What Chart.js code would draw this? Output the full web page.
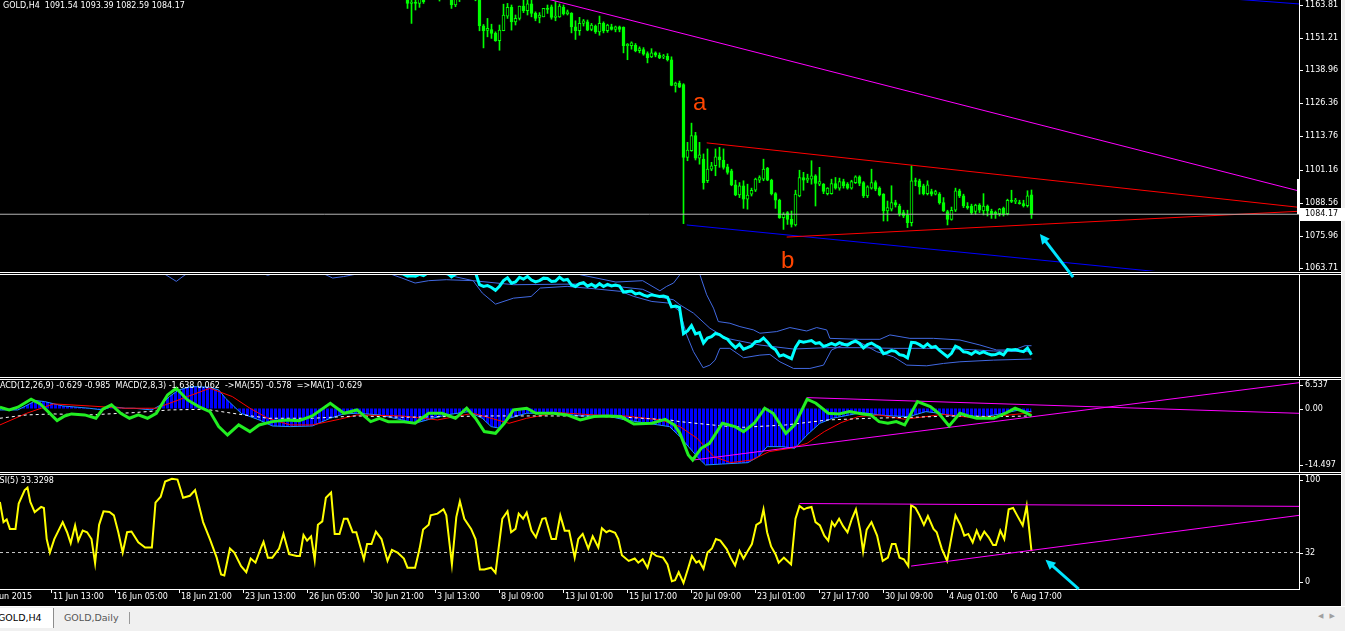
<!DOCTYPE html>
<html>
<head>
<meta charset="utf-8">
<script src="https://cdn.jsdelivr.net/npm/chart.js@4.4.1/dist/chart.umd.min.js"></script>
<style>
  html, body { margin: 0; padding: 0; background: #000; width: 1345px; height: 631px; overflow: hidden; }
  canvas { position: absolute; left: 0; }
  #price { z-index: 2; }
  .sep { position: absolute; left: 0; width: 1341px; height: 1px; background: #fff; }
  #edge { position: absolute; left: 1341px; top: 0; width: 1px; height: 607px; background: #fff; }
  #edge2 { position: absolute; left: 1342px; top: 0; width: 3px; height: 607px; background: #f0f0f0; }
  #tabs { position: absolute; left: 0; top: 606px; width: 1345px; height: 25px; background: #f0f0f0;
          border-top: 1px solid #fff; font: 9.5px "DejaVu Sans", sans-serif; }
  #tab1 { position: absolute; left: 0; top: 1px; width: 53px; height: 20px; background: #fff;
          border-right: 1px solid #8c8c8c; color: #000; line-height: 20px; text-indent: -2px; }
  #tab2 { position: absolute; left: 64px; top: 1px; line-height: 20px; color: #555; }
  #tabsep { position: absolute; left: 129px; top: 5px; width: 1px; height: 12px; background: #999; }
  #arrows { position: absolute; left: 1318px; top: 5px; color: #a0a0a0; font-size: 7px; letter-spacing: 6px; }
</style>
</head>
<body>
<canvas id="price" width="1345" height="281" style="top:0"></canvas>
<div class="sep" style="top:272px"></div><div class="sep" style="top:274px"></div>
<canvas id="bands" width="1345" height="101" style="top:275px"></canvas>
<div class="sep" style="top:377px"></div><div class="sep" style="top:379px"></div>
<canvas id="macd" width="1345" height="92" style="top:380px"></canvas>
<div class="sep" style="top:472px"></div><div class="sep" style="top:474px"></div>
<canvas id="rsi" width="1345" height="131" style="top:475px"></canvas>
<div id="edge"></div><div id="edge2"></div>
<div id="tabs"><div id="tab1">GOLD,H4</div><div id="tab2">GOLD,Daily</div><div id="tabsep"></div><div id="arrows">◀▶</div></div>

<script>
// GOLD H4, bar index 0 = first bar at the left edge, last bar (7 Aug 13:00) = 257
const FIRST_BAR = 96;
const opens = [
  1169, 1168, 1167.2, 1168.5, 1167.0, 1166.5, 1164.3, 1164.8, 1164.3, 1166,
  1166.2, 1167.5, 1168.4, 1167.1, 1168, 1169.2, 1167.3, 1163.7, 1166.5, 1168,
  1169.1, 1167.5, 1168.3, 1168, 1155.8, 1154, 1154.4, 1152.9, 1150.1, 1153.9,
  1159.5, 1162.8, 1157.3, 1158.6, 1163.3, 1161.5, 1164.1, 1160.5, 1159.0, 1159.2,
  1162.4, 1163.05, 1159.0, 1159.2, 1162.8, 1160.3, 1160.5, 1155.4, 1153.9, 1156.7,
  1157.3, 1154.4, 1155.7, 1153.5, 1156.7, 1153.9, 1155.4, 1154.4, 1155.4, 1155.2,
  1148.2, 1148.2, 1148.4, 1146.3, 1146.8, 1145.2, 1144, 1145.5, 1144.6, 1144,
  1144.2, 1142.9, 1133.1, 1134.0, 1133.5, 1105.8, 1108.3, 1114.05, 1105.5, 1105.1,
  1096.9, 1101.3, 1102.6, 1106.0, 1104.8, 1102.2, 1100.7, 1095.35, 1091.5, 1095.0,
  1089.9, 1091.8, 1093.3, 1097.1, 1097.5, 1101.7, 1097.1, 1092.0, 1089.5, 1082.9,
  1084.8, 1082.2, 1080.1, 1091.1, 1098.15, 1097.1, 1097.5, 1098.8, 1095.6, 1095.6,
  1092.0, 1092.0, 1095.85, 1094.1, 1096.6, 1095.6, 1094.1, 1096.2, 1098.4, 1096.2,
  1091.15, 1094.1, 1096.2, 1094.1, 1091.8, 1085.4, 1086.1, 1088.6, 1087.3, 1084.8,
  1083.9, 1081.0, 1096.9, 1096.9, 1095.0, 1092.0, 1092.8, 1091.8, 1091.8, 1088.6,
  1085.2, 1082.2, 1085.7, 1093.1, 1091.15, 1087.3, 1087.3, 1085.2, 1087.7, 1085.4,
  1087.3, 1085.4, 1084.9, 1084.4, 1086.4, 1084.4, 1089.5, 1089.0, 1088.6, 1088.2,
  1087.4, 1091.54
];
const highs = [
  1171, 1170, 1169.5, 1170, 1169.5, 1168, 1166.5, 1166, 1167, 1167.5,
  1168.5, 1169.6, 1170.2, 1170, 1170.5, 1171, 1168.5, 1168, 1170, 1170.5,
  1171.2, 1169.5, 1169.8, 1169, 1156.3, 1158.6, 1156.4, 1153.5, 1156.1, 1164,
  1164.3, 1163.7, 1159.9, 1163.3, 1165.6, 1166, 1166, 1161.1, 1160.8, 1162.4,
  1163.7, 1163.7, 1165, 1164.1, 1163.7, 1161.8, 1160.8, 1157.7, 1159, 1158.2,
  1158, 1156.7, 1156.1, 1159.5, 1157.3, 1156.4, 1156.4, 1155.7, 1155.7, 1155.4,
  1149.05, 1149.7, 1149.05, 1147.8, 1147.5, 1145.9, 1147.1, 1145.9, 1145.5, 1144.9,
  1145.2, 1144, 1134.4, 1134.8, 1133.8, 1111.5, 1118.8, 1115.3, 1111.5, 1107.1,
  1109, 1103.9, 1109, 1109.6, 1109, 1103.2, 1101.3, 1097.1, 1096.2, 1096.9,
  1095.6, 1094.1, 1097.9, 1098.8, 1105.1, 1102.0, 1097.5, 1092.4, 1089.9, 1084.8,
  1085.2, 1085.4, 1093.3, 1100.9, 1100.1, 1099.4, 1104.5, 1099.2, 1102.0, 1095.85,
  1094.3, 1097.5, 1098.15, 1097.9, 1097.5, 1096.2, 1097.1, 1098.8, 1098.8, 1096.6,
  1095.0, 1101.3, 1096.9, 1094.6, 1092.0, 1089.2, 1095.0, 1089.5, 1088.0, 1085.7,
  1085.7, 1102.6, 1097.9, 1097.5, 1095.6, 1096.9, 1093.7, 1093.3, 1092.4, 1090.5,
  1085.7, 1086.9, 1094.1, 1093.7, 1091.8, 1088.6, 1088.0, 1088.0, 1088.2, 1092.0,
  1087.7, 1086.1, 1085.4, 1086.4, 1086.9, 1089.9, 1093.3, 1090.2, 1089.5, 1089.5,
  1093.1, 1093.39
];
const lows = [
  1166.8, 1166.2, 1165.9, 1166.5, 1166.0, 1162.4, 1156.7, 1161.8, 1162.8, 1164.3,
  1165.8, 1166.3, 1166.6, 1165.2, 1166.4, 1166.5, 1162.4, 1163.05, 1165.0, 1166.2,
  1166.8, 1166.1, 1165.3, 1153.9, 1147.4, 1151.6, 1151, 1149.9, 1146.5, 1153.9,
  1158.6, 1154.15, 1156.1, 1158, 1160.8, 1159.9, 1159.2, 1157.7, 1156.9, 1159.2,
  1160.5, 1158.3, 1157.7, 1159.0, 1159.9, 1159.9, 1153.1, 1150.6, 1152.2, 1155.7,
  1153.9, 1153.9, 1152.9, 1152.2, 1153.1, 1153.3, 1154.15, 1153.5, 1153.5, 1145.5,
  1142.9, 1146.9, 1145.9, 1145.5, 1144.6, 1141.7, 1143.7, 1144.0, 1143.3, 1143.3,
  1142.4, 1133.0, 1130.6, 1132.3, 1080.6, 1104.5, 1108.1, 1104.8, 1103.2, 1093.7,
  1096.2, 1100.7, 1098.8, 1102.0, 1101.3, 1099.4, 1095.0, 1091.2, 1090.5, 1086.4,
  1086.1, 1091.1, 1092.8, 1096.2, 1096.9, 1096.9, 1091.5, 1086.4, 1082.6, 1078.4,
  1080.3, 1079.3, 1079.7, 1090.8, 1093.3, 1096.2, 1095.6, 1087.3, 1095.0, 1092.0,
  1091.5, 1091.8, 1093.7, 1093.3, 1094.1, 1093.7, 1093.7, 1095.85, 1095.0, 1090.5,
  1090.5, 1093.7, 1093.1, 1091.15, 1081.6, 1081.6, 1085.4, 1086.9, 1083.5, 1082.9,
  1079.1, 1079.7, 1095.0, 1091.8, 1091.5, 1091.5, 1091.15, 1091.5, 1088.0, 1085.2,
  1080.1, 1081.9, 1085.2, 1090.5, 1086.7, 1086.1, 1084.15, 1084.15, 1084.8, 1083.9,
  1083.5, 1082.6, 1082.6, 1083.5, 1083.5, 1083.9, 1088.6, 1088.2, 1088.0, 1086.9,
  1086.9, 1082.59
];
const closes = [
  1168, 1167.2, 1168.5, 1167.0, 1166.5, 1164.3, 1164.8, 1164.3, 1166.2, 1165,
  1167.5, 1168.4, 1167.1, 1168, 1169.2, 1167.3, 1163.7, 1166.5, 1168, 1169.1,
  1167.5, 1168.3, 1168, 1155.8, 1153.9, 1154.8, 1152.9, 1150.1, 1154.15, 1159.9,
  1162.8, 1157.3, 1158.6, 1163.3, 1161.5, 1164.1, 1160.5, 1158.6, 1159.9, 1162.4,
  1162.0, 1159.0, 1159.5, 1163.3, 1160.3, 1161.1, 1155.4, 1153.9, 1156.7, 1157.7,
  1154.15, 1156.1, 1153.5, 1156.7, 1153.9, 1156.1, 1154.4, 1155.4, 1154.4, 1148.2,
  1148.8, 1149.3, 1146.3, 1147.1, 1145.0, 1143.7, 1145.5, 1144.6, 1143.7, 1144.1,
  1142.9, 1133.1, 1134.0, 1132.5, 1105.8, 1108.6, 1114.05, 1105.5, 1106.8, 1096.2,
  1101.3, 1102.6, 1106.0, 1104.8, 1102.0, 1100.1, 1095.35, 1091.5, 1095.0, 1089.9,
  1091.5, 1093.3, 1097.5, 1098.15, 1101.3, 1097.1, 1092.0, 1089.5, 1082.9, 1084.15,
  1082.2, 1080.3, 1091.8, 1098.15, 1097.1, 1097.9, 1098.8, 1095.85, 1096.6, 1092.8,
  1094.1, 1095.85, 1094.1, 1096.6, 1095.0, 1094.1, 1096.6, 1098.4, 1095.85, 1091.15,
  1094.6, 1096.2, 1093.7, 1091.5, 1085.4, 1086.7, 1088.6, 1087.7, 1084.4, 1083.5,
  1081.0, 1096.9, 1096.6, 1094.6, 1092.0, 1095.35, 1091.8, 1092.8, 1088.6, 1085.4,
  1082.2, 1085.7, 1093.1, 1091.15, 1087.3, 1086.7, 1084.8, 1087.7, 1085.7, 1087.3,
  1085.4, 1084.15, 1084.4, 1086.1, 1084.15, 1089.5, 1089.0, 1089.5, 1088.2, 1087.4,
  1091.15, 1084.17
];

// price scale ticks and time axis
const priceTicks = [1163.81, 1151.21, 1138.96, 1126.36, 1113.76, 1101.16, 1088.56, 1075.96, 1063.71];
const lastPrice = 1084.17;
const axisMarker = [1097.6, 1084.17];
const tickBars = [-4, 12, 28, 44, 60, 76, 92, 108, 124, 140, 156, 172, 188, 204, 220, 236, 252];
const tickLabels = ["9 Jun 2015", "11 Jun 13:00", "16 Jun 05:00", "18 Jun 21:00", "23 Jun 13:00",
  "26 Jun 05:00", "30 Jun 21:00", "3 Jul 13:00", "8 Jul 09:00", "13 Jul 01:00", "15 Jul 17:00",
  "20 Jul 09:00", "23 Jul 01:00", "27 Jul 17:00", "30 Jul 09:00", "4 Aug 01:00", "6 Aug 17:00"];

// trend lines drawn on the price window [bar, price]
const magentaLine = [[130, 1168.3], [323.9, 1093.0]];
const redUpper = [[175.8, 1111.3], [323.9, 1086.8]];
const redLower = [[195.8, 1075.5], [323.9, 1085.3]];
const blueLower = [[170.8, 1080.1], [300, 1060.6]];
const blueTop = [[309, 1165.8], [323.9, 1164.1]];
const notes = [{ text: "a", bar: 172.4, price: 1123.8 }, { text: "b", bar: 194.4, price: 1063.7 }];
const priceArrow = [[267.4, 1060.3], [259.1, 1076.7]];

// band window [bar, price]
const upperBand = [[96, 1172], [140, 1170], [144.2, 1165.9], [153.1, 1158.4], [159.8, 1159.8], [164.1, 1149.5],
  [165.8, 1154.0], [167.5, 1157.4], [169.1, 1165.9], [170, 1175], [173, 1175], [174.1, 1165.9], [175.8, 1145.4],
  [177.5, 1131.8], [178.7, 1118.1], [181.6, 1116.4], [184.1, 1113.0], [187.5, 1109.6], [189.1, 1106.2],
  [193.3, 1107.9], [196.6, 1112.0], [200.8, 1108.5], [203.3, 1112.0], [205.8, 1109.6], [206.6, 1101.0],
  [214.1, 1100.0], [219.1, 1100.0], [221.6, 1104.5], [226.6, 1101.0], [232.5, 1101.0], [239.1, 1099.3],
  [244.1, 1094.2], [248.3, 1089.1], [252.5, 1089.1], [255.4, 1093.5], [257, 1093.5]];
const midBand = [[96, 1170], [110, 1166.5], [117.4, 1159.8], [127.5, 1155.7], [144.2, 1156.4], [153.1, 1154.0],
  [159.8, 1151], [164.1, 1143], [167.5, 1140.3], [169.1, 1135.2], [172.5, 1126.7], [176.6, 1111.3],
  [180.8, 1101.0], [189.1, 1094.2], [197.5, 1090.1], [205.8, 1091.5], [214.1, 1091.5], [222.5, 1090.8],
  [230.8, 1090.8], [239.1, 1090.1], [247.5, 1088.1], [257, 1087.4]];
const lowerBand = [[0, 1172], [39, 1168], [40.6, 1165.8], [43.2, 1159.1], [45.4, 1165.8], [47, 1168], [64, 1168],
  [66.1, 1165.3], [68, 1168], [79, 1168], [80.6, 1165.8], [82.3, 1162.5], [85, 1164], [87.3, 1165.8], [90, 1168],
  [96, 1168], [97.3, 1165.8], [99.6, 1162.5], [102.9, 1157.4], [106.3, 1159.8], [110.7, 1160.8], [117.4, 1159.8],
  [119.7, 1147.2], [123, 1135.9], [127.5, 1142.0], [131.9, 1143.7], [134.2, 1152.3], [140.9, 1154.0],
  [147.6, 1151.6], [154.3, 1148.9], [157.6, 1143.7], [162.1, 1138.6], [166.5, 1136.9], [169.1, 1128.4],
  [170.8, 1104.4], [172.5, 1087.4], [174.9, 1071.0], [176.6, 1073.7], [177.9, 1078.8], [179.1, 1090.8],
  [181.6, 1090.8], [185.0, 1081.2], [189.1, 1083.9], [191.6, 1084.6], [194.1, 1077.1], [197.5, 1070.3],
  [201.6, 1070.3], [205.0, 1073.7], [207.0, 1089.1], [210.8, 1095.9], [214.1, 1096.9], [218.3, 1087.4],
  [222.5, 1082.2], [225.8, 1073.7], [230.8, 1073.0], [235.0, 1075.4], [239.1, 1077.1], [247.5, 1078.8],
  [257, 1079.9]];

// MACD window [bar, value]
const macdMain = [[-0.9, -0.31], [3.6, -0.31], [8.1, 1.83], [10.3, 1.6], [14.8, 0.61], [21.4, 0.08], [24.8, -0.31],
  [27, 0.46], [30.4, 0.08], [32.6, 0.08], [37.1, -0.31], [39.3, 0.84], [41.5, 2.75], [43.8, 4.27], [47.1, 5.04],
  [51.6, 4.88], [53.8, 4.27], [55.5, 2.37], [59.4, -1.07], [63.9, -2.59], [67.2, -3.97], [71.7, -4.12],
  [77.2, -3.97], [81.7, -2.21], [85.1, -1.22], [88.4, -1.07], [94, -1.45], [99.6, -2.59], [102.9, -3.36],
  [107.4, -2.21], [110.7, -1.45], [116.3, -0.69], [119.7, -2.21], [121.9, -4.12], [124.1, -4.5], [126.4, -2.21],
  [130.8, -1.07], [135.3, -1.07], [139.8, -1.22], [144.2, -1.68], [150.9, -1.68], [155.4, -2.59], [161, -3.36],
  [166.5, -4.12], [169.1, -6.41], [173.4, -10.99], [175.5, -12.89], [179.7, -12.67], [186.1, -12.36],
  [188.7, -10.99], [190.9, -8.7], [194.6, -8.7], [197.8, -9.08], [200.9, -6.03], [204.1, -3.36], [207.3, -2.21],
  [211.5, -1.45], [214.7, -0.92], [218.9, -1.45], [222.1, -1.68], [226.4, -1.83], [230.6, -0.69], [233.8, -1.07],
  [237, -1.68], [241.2, -1.68], [245.5, -1.83], [250.8, -0.92], [254, -0.31], [256.1, -0.69], [257, -0.63]];
const macdSignal = [[-0.9, -3.74], [5.8, -1.07], [12.5, 1.07], [21.4, 0.61], [30.4, 0.08], [38.2, 0.08], [46, 2.75],
  [51.6, 4.65], [57.2, 2.75], [61.6, 0.08], [66.1, -2.21], [71.7, -3.74], [77.2, -3.74], [84, -2.44], [88.4, -1.45],
  [99.6, -1.68], [108.5, -2.59], [117.4, -1.07], [121.9, -2.21], [126.4, -3.36], [130.8, -2.21], [138.6, -0.92],
  [147.6, -1.45], [155.4, -1.68], [164.3, -2.59], [169.1, -4.12], [173.4, -6.79], [177.6, -10.99],
  [181.8, -12.36], [187.1, -11.75], [191.4, -9.84], [196.7, -9.08], [200.9, -7.94], [205.2, -5.26],
  [209.4, -3.2], [213.7, -1.83], [218.9, -1.45], [225.3, -2.44], [230.6, -1.83], [234.9, -1.3], [241.2, -1.98],
  [247.6, -1.83], [254, -1.22], [257, -0.98]];
const ma55 = [[-0.9, -2.21], [5.8, -1.45], [12.5, -1.22], [21.4, -1.45], [32.6, -0.92], [41.5, -0.31], [50.5, -0.15],
  [57.2, -1.07], [66.1, -2.21], [77.2, -2.21], [88.4, -1.68], [99.6, -1.98], [110.7, -1.83], [121.9, -1.68],
  [133.1, -1.68], [144.2, -1.68], [155.4, -1.98], [166.5, -2.59], [169.1, -2.98], [179.7, -3.97], [185, -4.27],
  [195.6, -3.74], [206.2, -2.59], [216.8, -2.21], [227.4, -1.98], [238, -1.68], [248.6, -1.83], [257, -1.68]];
const macdFast = [[-0.9, 0.31], [1.4, -0.31], [3.6, 0.31], [6.9, 2.14], [9.2, 1.07], [11.4, -0.92], [13.4, -2.75],
  [15.3, -1.68], [17, -1.22], [20.3, -1.45], [23.1, -2.21], [24.8, -0.15], [27, 0.84], [29.3, -1.07], [31.5, -2.21],
  [33.7, -1.45], [36, -2.21], [38.2, -1.07], [41, 3.13], [43.2, 4.65], [46, 1.98], [48.8, 0.46], [51.6, -0.69],
  [53.8, -4.12], [56, -6.03], [58.8, -3.74], [61.6, -5.26], [63.9, -3.74], [67.2, -2.98], [70.6, -2.59],
  [73.9, -2.75], [77.2, -1.68], [81.7, 1.22], [85.1, -1.07], [88.4, -0.31], [91.8, -2.98], [94, -2.21],
  [96.2, -2.98], [99.6, -2.98], [102.9, -3.36], [106.3, -1.07], [109.6, -1.07], [113, -2.21], [115.8, 0.08],
  [118, -2.21], [120.2, -5.26], [123, -5.65], [125.2, -3.36], [127.5, -0.31], [130.8, 0.08], [133.1, -1.07],
  [137.5, -1.07], [140.9, -1.45], [144.2, -2.59], [147.6, -1.83], [150.9, -1.68], [154.3, -1.83], [157.6, -3.51],
  [162.1, -3.36], [165.4, -2.44], [167.7, -3.74], [169.1, -5.65], [171.2, -10.61], [172.3, -11.75],
  [174.4, -9.08], [176.5, -7.94], [179.7, -3.36], [182.9, -4.12], [185, -5.26], [187.7, -3.36], [190.3, 0.08],
  [192.4, -1.07], [195.6, -5.65], [197.8, -3.74], [200.9, 2.14], [203.1, 1.22], [206.2, -1.07], [208.9, -1.22],
  [211.5, -0.69], [214.7, -1.22], [216.8, -1.45], [218.9, -2.98], [221.1, -3.36], [223.2, -2.98], [225.3, -3.74],
  [228.5, 1.6], [231.7, 0.46], [233.8, -1.07], [236.4, -3.97], [239.1, -1.07], [241.2, -1.68], [243.3, -2.21],
  [247.6, -2.21], [250.8, -0.92], [252.9, 0.08], [255, -0.69], [257, -1.64]];
const macdLineA = [[200.9, 2.51], [323.9, -1.08]];
const macdLineB = [[172.3, -11.77], [323.9, 5.92]];
const macdTicks = [6.537, 0, -14.497];
const macdTitle = "MACD(12,26,9) -0.629 -0.985  MACD(2,8,3) -1.638 0.062  ->MA(55) -0.578  =>MA(1) -0.629";

// RSI window [bar, value]
const rsi = [[-0.9, 76.4], [0, 58.7], [0.8, 61], [1.6, 52.7], [3, 52.7], [3.8, 75], [5.3, 86.8], [6, 88.9], [6.7, 76.4],
  [7.8, 67.5], [9.4, 72], [10.1, 71.1], [10.8, 43.8], [11.6, 32], [12.7, 43.8], [14.8, 58.7], [15.9, 49.8],
  [16.8, 40.3], [17.9, 55.7], [18.7, 42.4], [19.8, 51.2], [20.9, 49.8], [22, 43.8], [22.9, 22.5], [23.9, 56.3],
  [25, 68.1], [26.5, 67.5], [27.6, 64.6], [28.7, 49.8], [29.8, 32], [30.9, 49.8], [32, 50.4], [33.7, 40.9],
  [35.4, 36.4], [37.1, 36.4], [38, 75.8], [39.3, 80.9], [40.4, 94.2], [42.1, 96.6], [43.5, 96], [44.9, 80],
  [46.6, 81.8], [47.9, 86.8], [49.9, 58.7], [51.6, 43.8], [53.3, 27.5], [54.4, 12.7], [55.2, 11.8], [56.6, 35.5],
  [57.7, 32], [59.4, 20.1], [60.7, 14.8], [61.8, 26.7], [63, 23.1], [64.4, 36.4], [65, 41.4], [66.1, 27.5],
  [67.2, 27.5], [68.9, 35.5], [70, 48.3], [71.4, 30.5], [73.3, 29], [74.1, 29], [75, 47.4], [75.9, 42.4],
  [76.9, 46.2], [77.8, 25.5], [78.6, 56.3], [79.7, 59.3], [80.6, 80], [81.9, 84.7], [82.8, 48.3], [84, 48.3],
  [85.1, 61.6], [86, 61.6], [87.3, 49.8], [88.2, 49.8], [90.1, 26.1], [90.9, 39.4], [92, 39.4], [93.1, 50.4],
  [94.5, 43.8], [96, 24.6], [97.1, 34.4], [98.5, 32], [100.1, 26.7], [101, 18.7], [102.9, 18.7], [104, 35],
  [104.9, 52.1], [106.3, 56.3], [106.8, 64.6], [108.5, 66.1], [110, 69.9], [110.7, 64.6], [112.1, 21.6],
  [113.2, 63.1], [114.1, 77], [115.2, 61.6], [116.9, 52.7], [118, 43.8], [119.1, 17.2], [120.2, 17.2],
  [121.9, 18.7], [123, 14.2], [124.7, 61.6], [126, 68.1], [126.9, 49.8], [128, 52.7], [128.8, 66.1],
  [129.9, 61.6], [130.8, 67], [132, 51.2], [133.1, 45.3], [134.7, 61.6], [135.5, 62.2], [137, 43.8],
  [138.1, 43.8], [139.2, 64.6], [140.3, 51.2], [141.4, 51.2], [142.8, 27.5], [143.7, 43.8], [144.8, 48.3],
  [146.2, 35.5], [147.3, 46.2], [148.7, 36.4], [149.6, 53.3], [150.7, 49.8], [151.5, 51.2], [152.9, 49.2],
  [153.7, 43.8], [154.6, 29.6], [156.3, 24.6], [157.8, 26.7], [158.7, 23.1], [159.8, 26.1], [161, 18.7],
  [162.1, 32], [163.2, 29], [164.9, 27.5], [166, 21.6], [167.1, 6.8], [167.9, 7.7], [168.8, 14.8], [170, 5.3],
  [171.2, 18.7], [172.1, 29], [173.2, 23.1], [173.9, 24.6], [175, 17.8], [176, 32], [177.1, 35.5], [178.1, 43.8],
  [179.2, 42.4], [180.8, 35], [181.8, 27.5], [182.9, 20.7], [184, 33.5], [185, 26.7], [186.1, 33.5],
  [187.1, 39.4], [188.2, 56.3], [189.3, 58.7], [190, 69.9], [190.9, 49.8], [191.9, 37.3], [193, 30.5],
  [193.8, 23.1], [195.1, 27.5], [196.9, 21.6], [198, 61.6], [199, 72.9], [200.1, 69.9], [200.9, 71.1], [202, 72],
  [203, 58.7], [204.1, 55.7], [205.2, 46.8], [206.2, 42.4], [207.1, 58.7], [207.8, 55.1], [208.9, 61.6],
  [209.9, 55.1], [211, 49.8], [212.1, 61.6], [213.1, 69.9], [214.2, 51.2], [214.9, 32.9], [215.8, 52.1],
  [217, 58.7], [218.4, 46.8], [219.8, 24.6], [221.1, 27.5], [222.1, 39.4], [223, 39.4], [224, 27.5],
  [225.1, 26.1], [226.2, 20.1], [226.9, 73.5], [228, 71.1], [229, 64.6], [230.1, 56.3], [231.1, 64],
  [232.5, 52.7], [233.3, 49.8], [234.6, 35], [235.9, 24.6], [238, 64.6], [239.3, 55.7], [240.2, 46.8],
  [241.2, 48.3], [242.3, 40.9], [243.3, 51.2], [244.2, 43.8], [245.2, 50.4], [246.3, 45.3], [247.4, 38.5],
  [248.1, 38.5], [249.2, 51.2], [250.2, 43.8], [251.3, 69.9], [252.4, 71.1], [253.4, 64.6], [254.8, 55.7],
  [255.8, 72.9], [257, 33.3]];
const rsiLevel = 32;
const rsiUpper = [[199, 75.0], [323.9, 72.5]];
const rsiLower = [[226.9, 20.1], [323.9, 64.6]];
const rsiArrow = [[268.8, 0.0], [260.5, 25.7]];
const rsiTicks = [100, 32, 0];
const rsiTitle = "RSI(5) 33.3298";
const chartTitle = "GOLD,H4  1091.54 1093.39 1082.59 1084.17";

// ---------------------------------------------------------------
const X_MIN = -0.875, X_MAX = 323.875;
const FONT = '8px "DejaVu Sans"';
const LIME = '#00ff00';
Chart.defaults.elements.point.radius = 0;
Chart.defaults.elements.line.tension = 0;

const pts = arr => arr.map(([x, y]) => ({ x, y }));
const bars = closes.map((_, i) => FIRST_BAR + i);

function line(data, color, width, extra) {
  return Object.assign({ type: 'line', data: pts(data), borderColor: color, borderWidth: width, fill: false, order: 0 }, extra || {});
}

function baseOptions(yMin, yMax, bottomPad) {
  return {
    responsive: false, animation: false, devicePixelRatio: 1, events: [],
    layout: { padding: { right: 46, bottom: bottomPad || 0 } },
    plugins: { legend: { display: false }, tooltip: { enabled: false } },
    scales: {
      x: { type: 'linear', min: X_MIN, max: X_MAX, display: false, offset: false },
      y: { type: 'linear', min: yMin, max: yMax, display: false }
    }
  };
}

// right price scale, axis line and window caption
function frame(ticks, fmt, caption, captionX, inset) {
  const [padTop, padBottom] = inset || [5, 7];
  return {
    id: 'frame',
    afterDraw(chart) {
      const { ctx, chartArea: a, scales: { y } } = chart;
      ctx.save();
      ctx.fillStyle = '#fff';
      ctx.fillRect(a.right, 0, 1, a.bottom);
      ctx.font = FONT;
      ctx.textBaseline = 'middle';
      ticks.forEach(v => {
        let py = Math.round(y.getPixelForValue(v));
        py = Math.min(Math.max(py, a.top + padTop), a.bottom - padBottom);
        ctx.fillRect(a.right, py, 4, 1);
        ctx.fillText(fmt(v), a.right + 6, py);
      });
      if (caption) ctx.fillText(caption, captionX, a.top + 6);
      ctx.restore();
    }
  };
}

function drawArrow(chart, seg) {
  const { ctx, scales: { x, y } } = chart;
  const x1 = x.getPixelForValue(seg[0][0]), y1 = y.getPixelForValue(seg[0][1]);
  const x2 = x.getPixelForValue(seg[1][0]), y2 = y.getPixelForValue(seg[1][1]);
  const ang = Math.atan2(y2 - y1, x2 - x1);
  ctx.save();
  ctx.strokeStyle = ctx.fillStyle = '#00e5ff';
  ctx.lineWidth = 3;
  ctx.beginPath();
  ctx.moveTo(x1, y1);
  ctx.lineTo(x2 - 6 * Math.cos(ang), y2 - 6 * Math.sin(ang));
  ctx.stroke();
  ctx.beginPath();
  ctx.moveTo(x2, y2);
  ctx.lineTo(x2 - 11 * Math.cos(ang - 0.45), y2 - 11 * Math.sin(ang - 0.45));
  ctx.lineTo(x2 - 11 * Math.cos(ang + 0.45), y2 - 11 * Math.sin(ang + 0.45));
  ctx.closePath();
  ctx.fill();
  ctx.restore();
}

// ---------------- price window (canvas is a little taller so the arrow can cross the separator)
const fmt2 = v => v.toFixed(2);
new Chart(document.getElementById('price'), {
  type: 'bar',
  data: {
    datasets: [
      line([[X_MIN, lastPrice], [X_MAX, lastPrice]], '#b4b4b4', 1),
      line(magentaLine, '#ff00ff', 1),
      line(redUpper, '#ff0000', 1),
      line(redLower, '#ff0000', 1),
      line(blueLower, '#0000ff', 1),
      line(blueTop, '#0000ff', 1),
      {
        data: bars.map((k, i) => ({ x: k, y: [opens[i], closes[i]] })),
        barThickness: 3, borderWidth: 1, borderColor: LIME, borderSkipped: false, minBarLength: 1,
        backgroundColor: bars.map((k, i) => closes[i] >= opens[i] ? '#000' : LIME),
        grouped: false, order: 1
      },
      {
        data: bars.map((k, i) => ({ x: k, y: [lows[i], highs[i]] })),
        barThickness: 1, backgroundColor: LIME, grouped: false, order: 2
      }
    ]
  },
  options: baseOptions(1062.6, 1165.6, 10),
  plugins: [frame(priceTicks, fmt2, chartTitle, 3, [4, 2]), {
    id: 'priceExtras',
    afterDraw(chart) {
      const { ctx, chartArea: a, scales: { x, y } } = chart;
      ctx.save();
      const py = Math.round(y.getPixelForValue(lastPrice));
      ctx.fillStyle = '#fff';
      const m0 = Math.round(y.getPixelForValue(axisMarker[0]));
      ctx.fillRect(a.right - 2, m0, 3, py - m0);
      ctx.fillRect(a.right + 1, py - 6, 46, 13);
      ctx.fillStyle = '#000';
      ctx.font = FONT;
      ctx.textBaseline = 'middle';
      ctx.fillText(fmt2(lastPrice), a.right + 6, py);
      ctx.font = '24px "Liberation Sans"';
      ctx.fillStyle = '#ff4500';
      ctx.textBaseline = 'alphabetic';
      notes.forEach(n => ctx.fillText(n.text, x.getPixelForValue(n.bar), y.getPixelForValue(n.price)));
      ctx.restore();
      drawArrow(chart, priceArrow);
    }
  }]
});

// ---------------- band window
new Chart(document.getElementById('bands'), {
  type: 'line',
  data: {
    datasets: [
      line(bars.map((k, i) => [k, closes[i]]), '#00ffff', 3),
      line(upperBand, '#4169e1', 1, { order: 1 }),
      line(midBand, '#4169e1', 1, { order: 1 }),
      line(lowerBand, '#4169e1', 1, { order: 1 })
    ]
  },
  options: baseOptions(1062.6, 1165.6),
  plugins: [frame([], fmt2)]
});

// ---------------- MACD window
const macdCanvas = document.getElementById('macd');
function histPattern(ctx) {
  const c = document.createElement('canvas');
  c.width = 4; c.height = 1;
  const g = c.getContext('2d');
  g.fillStyle = '#0000ff';
  g.fillRect(2, 0, 2, 1);
  g.fillRect(0, 0, 1, 1);
  return ctx.createPattern(c, 'repeat');
}
new Chart(macdCanvas, {
  type: 'line',
  data: {
    datasets: [
      line(macdFast, '#22ee22', 3, { order: 0 }),
      line(macdLineA, '#ff00ff', 1, { order: 1 }),
      line(macdLineB, '#ff00ff', 1, { order: 1 }),
      line(ma55, '#ffffff', 1, { borderDash: [3, 3], order: 2 }),
      line(macdSignal, '#ff0000', 1, { order: 3 }),
      line(macdMain, '#1e90ff', 1, { fill: 'origin', backgroundColor: histPattern(macdCanvas.getContext('2d')), order: 4 })
    ]
  },
  options: baseOptions(-14.497, 6.537),
  plugins: [frame(macdTicks, v => v === 0 ? '0.00' : v.toFixed(3), macdTitle, -7)]
});

// ---------------- RSI window + time axis
new Chart(document.getElementById('rsi'), {
  type: 'line',
  data: {
    datasets: [
      line(rsi, '#ffff00', 2, { order: 1 }),
      line(rsiUpper, '#ff00ff', 1, { order: 0 }),
      line(rsiLower, '#ff00ff', 1, { order: 0 }),
      line([[X_MIN, rsiLevel], [X_MAX, rsiLevel]], '#c8c8c8', 1, { borderDash: [3, 3], order: 2 })
    ]
  },
  options: baseOptions(0, 100, 17),
  plugins: [frame(rsiTicks, v => String(v), rsiTitle, -6), {
    id: 'timeAxis',
    afterDraw(chart) {
      const { ctx, chartArea: a, scales: { x } } = chart;
      ctx.save();
      ctx.fillStyle = '#fff';
      ctx.fillRect(0, a.bottom, a.right + 1, 1);
      ctx.font = FONT;
      ctx.textBaseline = 'middle';
      tickBars.forEach((k, i) => {
        const px = Math.floor(x.getPixelForValue(k));
        ctx.fillRect(px, a.bottom, 1, 4);
        ctx.fillText(tickLabels[i], px + 2, a.bottom + 8);
      });
      ctx.restore();
      drawArrow(chart, rsiArrow);
    }
  }]
});
</script>
</body>
</html>
